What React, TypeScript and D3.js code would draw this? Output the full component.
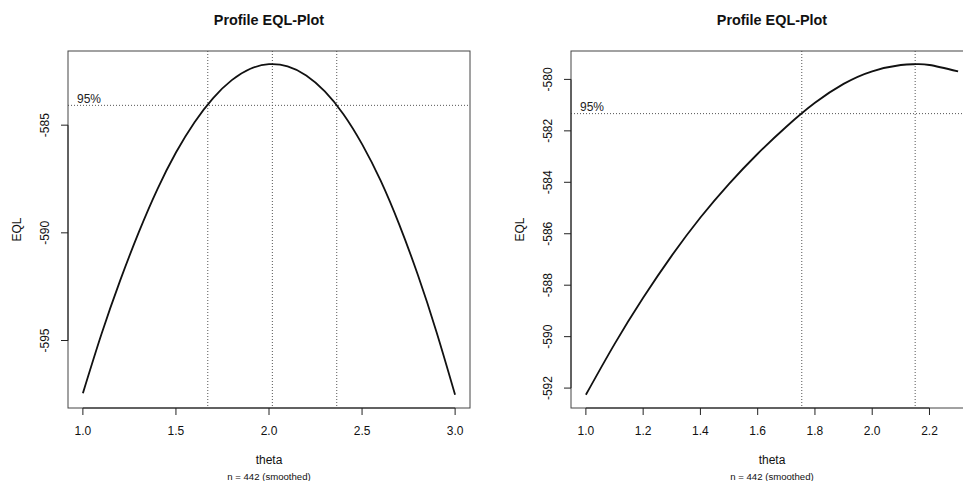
import React from "react";
import * as d3 from "d3";

// Profile extended quasi-likelihood (EQL) over theta, two fits
const thetaA = [1.0, 1.1, 1.2, 1.3, 1.4, 1.5, 1.6, 1.7, 1.8, 1.9, 2.0, 2.1, 2.2, 2.3, 2.4, 2.5, 2.6, 2.7, 2.8, 2.9, 3.0];
const eqlA = [-597.45, -594.7, -592.22, -589.98, -587.98, -586.27, -584.86, -583.74, -582.91, -582.38, -582.17, -582.27, -582.69, -583.43, -584.49, -585.88, -587.58, -589.62, -591.96, -594.6, -597.52];
const ciA = [1.671, 2.364];
const maxThetaA = 2.018;
const cutoffA = -584.08;
const xTicksA = [1.0, 1.5, 2.0, 2.5, 3.0];
const yTicksA = [-595, -590, -585];

const thetaB = [1.0, 1.1, 1.2, 1.3, 1.4, 1.5, 1.6, 1.7, 1.8, 1.9, 2.0, 2.1, 2.15, 2.2, 2.3];
const eqlB = [-592.26, -590.29, -588.49, -586.85, -585.37, -584.06, -582.89, -581.84, -580.91, -580.175, -579.685, -579.44, -579.41, -579.44, -579.69];
const ciB = [1.754];
const maxThetaB = 2.15;
const cutoffB = -581.33;
const xTicksB = [1.0, 1.2, 1.4, 1.6, 1.8, 2.0, 2.2];
const yTicksB = [-592, -590, -588, -586, -584, -582, -580];

const titleText = "Profile EQL-Plot";
const xLabel = "theta";
const yLabel = "EQL";
const subText = "n = 442 (smoothed)";
const levelText = "95%";

const W = 963;
const H = 481;
const FONT = "'Liberation Sans', Arial, Helvetica, sans-serif";

type PanelProps = {
  left: number;
  top: number;
  width: number;
  height: number;
  theta: number[];
  eql: number[];
  ci: number[];
  maxTheta: number;
  cutoff: number;
  xTicks: number[];
  yTicks: number[];
  xFmt: (v: number) => string;
};

// R-style 4% padding around the data range
const padded = (vals: number[]): [number, number] => {
  const [lo, hi] = d3.extent(vals) as [number, number];
  const p = (hi - lo) * 0.04;
  return [lo - p, hi + p];
};

function Panel(props: PanelProps) {
  const { left, top, width, height, theta, eql, ci, maxTheta, cutoff, xTicks, yTicks, xFmt } = props;
  const right = left + width;
  const bottom = top + height;
  const x = d3.scaleLinear().domain(padded(theta)).range([left, right]);
  const y = d3.scaleLinear().domain(padded(eql)).range([bottom, top]);
  const pts = theta.map((t, i) => [t, eql[i]] as [number, number]);
  const line = d3
    .line<[number, number]>()
    .x((d) => x(d[0]))
    .y((d) => y(d[1]))
    .curve(d3.curveNatural);
  const cx = (left + right) / 2;
  const cy = (top + bottom) / 2;
  const dotted = { stroke: "#555", strokeWidth: 1, strokeDasharray: "1 2", fill: "none" };
  const vlines = [...ci, maxTheta];

  return (
    <g fontFamily={FONT}>
      {/* reference lines */}
      <line x1={left} x2={right} y1={y(cutoff)} y2={y(cutoff)} {...dotted} />
      {vlines.map((v, i) => (
        <line key={i} x1={x(v)} x2={x(v)} y1={top} y2={bottom} {...dotted} />
      ))}
      <text x={left + 9} y={y(cutoff) - 2.5} fontSize={12} fill="#222">
        {levelText}
      </text>

      {/* profile curve */}
      <path d={line(pts) || ""} fill="none" stroke="#111" strokeWidth={1.8} />

      {/* frame */}
      <rect x={left} y={top} width={width} height={height} fill="none" stroke="#444" strokeWidth={1} />

      {/* x axis */}
      <line x1={x(xTicks[0])} x2={x(xTicks[xTicks.length - 1])} y1={bottom} y2={bottom} stroke="#222" />
      {xTicks.map((t, i) => (
        <g key={i}>
          <line x1={x(t)} x2={x(t)} y1={bottom} y2={bottom + 7} stroke="#222" />
          <text x={x(t)} y={bottom + 26.5} fontSize={12} textAnchor="middle" fill="#111">
            {xFmt(t)}
          </text>
        </g>
      ))}

      {/* y axis */}
      <line x1={left} x2={left} y1={y(yTicks[0])} y2={y(yTicks[yTicks.length - 1])} stroke="#222" />
      {yTicks.map((t, i) => (
        <g key={i}>
          <line x1={left - 7} x2={left} y1={y(t)} y2={y(t)} stroke="#222" />
          <text
            transform={`translate(${left - 19},${y(t)}) rotate(-90)`}
            fontSize={12}
            textAnchor="middle"
            fill="#111"
          >
            {String(t)}
          </text>
        </g>
      ))}

      {/* titles */}
      <text x={cx} y={25} fontSize={14.4} fontWeight="bold" textAnchor="middle" fill="#111">
        {titleText}
      </text>
      <text x={cx} y={464} fontSize={12} textAnchor="middle" fill="#111">
        {xLabel}
      </text>
      <text x={cx} y={480} fontSize={9.6} textAnchor="middle" fill="#111">
        {subText}
      </text>
      <text
        transform={`translate(${left - 47},${cy}) rotate(-90)`}
        fontSize={12}
        textAnchor="middle"
        fill="#111"
      >
        {yLabel}
      </text>
    </g>
  );
}

export default function App() {
  return (
    <svg
      width={W}
      height={H}
      viewBox={`0 0 ${W} ${H}`}
      style={{ position: "absolute", left: 0, top: 0, background: "#fff" }}
    >
      <rect x={0} y={0} width={W} height={H} fill="#fff" />
      <Panel
        left={68}
        top={51}
        width={402}
        height={357}
        theta={thetaA}
        eql={eqlA}
        ci={ciA}
        maxTheta={maxThetaA}
        cutoff={cutoffA}
        xTicks={xTicksA}
        yTicks={yTicksA}
        xFmt={d3.format(".1f")}
      />
      <Panel
        left={571}
        top={51}
        width={402}
        height={357}
        theta={thetaB}
        eql={eqlB}
        ci={ciB}
        maxTheta={maxThetaB}
        cutoff={cutoffB}
        xTicks={xTicksB}
        yTicks={yTicksB}
        xFmt={d3.format(".1f")}
      />
    </svg>
  );
}
